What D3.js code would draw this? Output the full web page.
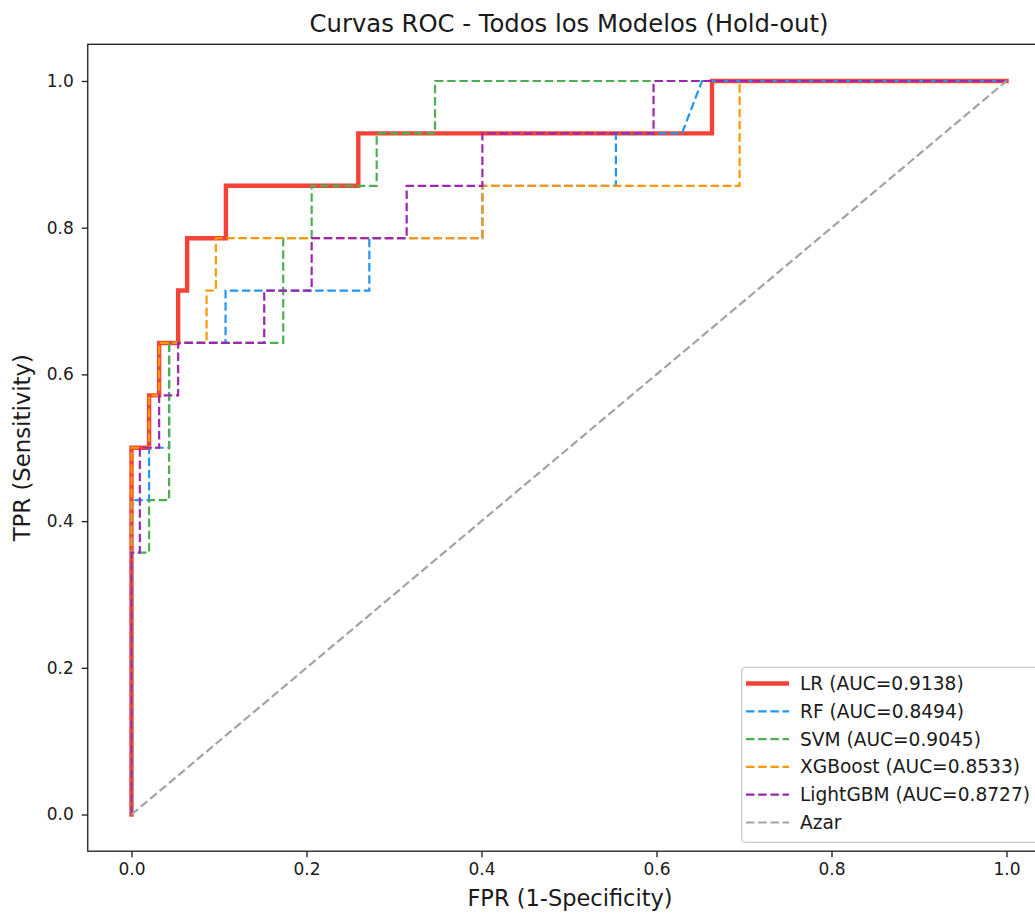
<!DOCTYPE html>
<html>
<head>
<meta charset="utf-8">
<script src="https://cdn.jsdelivr.net/npm/d3@7"></script>
<style>
  body { margin: 0; background: #ffffff; }
  text { font-family: "DejaVu Sans", sans-serif; fill: #1a1a1a; }
</style>
</head>
<body>
<svg id="chart" width="1035" height="913"></svg>
<script>
// ---------------- data ----------------
const title = "Curvas ROC - Todos los Modelos (Hold-out)";
const xLabel = "FPR (1-Specificity)";
const yLabel = "TPR (Sensitivity)";
const tickValues = [0.0, 0.2, 0.4, 0.6, 0.8, 1.0];

const modelNames = ["LR", "RF", "SVM", "XGBoost", "LightGBM"];
const modelAUC = [0.9138, 0.8494, 0.9045, 0.8533, 0.8727];
const modelColors = ["#F44336", "#2196F3", "#4CAF50", "#FF9800", "#9C27B0"];

const lrFPR = [0, 0, 0.0201, 0.0201, 0.0316, 0.0316, 0.0533, 0.0533, 0.0636, 0.0636, 0.1079, 0.1079, 0.2592, 0.2592, 0.6634, 0.6634, 1];
const lrTPR = [0, 0.5, 0.5, 0.5714, 0.5714, 0.6429, 0.6429, 0.7143, 0.7143, 0.7857, 0.7857, 0.8571, 0.8571, 0.9286, 0.9286, 1, 1];

const rfFPR = [0, 0, 0.0201, 0.0201, 0.043, 0.043, 0.1075, 0.1075, 0.2718, 0.2718, 0.401, 0.401, 0.5536, 0.5536, 0.6291, 0.652, 1];
const rfTPR = [0, 0.4286, 0.4286, 0.5, 0.5, 0.6429, 0.6429, 0.7143, 0.7143, 0.7857, 0.7857, 0.8571, 0.8571, 0.9286, 0.9286, 1, 1];

const svmFPR = [0, 0, 0.0201, 0.0201, 0.043, 0.043, 0.1734, 0.1734, 0.2059, 0.2059, 0.2802, 0.2802, 0.3469, 0.3469, 1];
const svmTPR = [0, 0.3571, 0.3571, 0.4286, 0.4286, 0.6429, 0.6429, 0.7857, 0.7857, 0.8571, 0.8571, 0.9286, 0.9286, 1, 1];

const xgbFPR = [0, 0, 0.0201, 0.0201, 0.0316, 0.0316, 0.0858, 0.0858, 0.0964, 0.0964, 0.401, 0.401, 0.695, 0.695, 1];
const xgbTPR = [0, 0.5, 0.5, 0.5714, 0.5714, 0.6429, 0.6429, 0.7143, 0.7143, 0.7857, 0.7857, 0.8571, 0.8571, 1, 1];

const lgbmFPR = [0, 0, 0.0095, 0.0095, 0.0316, 0.0316, 0.0533, 0.0533, 0.1517, 0.1517, 0.2059, 0.2059, 0.3145, 0.3145, 0.401, 0.401, 0.5966, 0.5966, 1];
const lgbmTPR = [0, 0.3571, 0.3571, 0.5, 0.5, 0.5714, 0.5714, 0.6429, 0.6429, 0.7143, 0.7143, 0.7857, 0.7857, 0.8571, 0.8571, 0.9286, 0.9286, 1, 1];

const chanceFPR = [0, 1];
const chanceTPR = [0, 1];
const chanceName = "Azar";
const chanceColor = "#a3a3a3";

// ---------------- layout ----------------
const svg = d3.select("#chart");
const plot = { left: 87.75, right: 1050.25, top: 44.3, bottom: 851.2 };

const x = d3.scaleLinear().domain([-0.05, 1.05]).range([plot.left, plot.right]);
const y = d3.scaleLinear().domain([-0.05, 1.05]).range([plot.bottom, plot.top]);

const curves = [
  { fpr: lrFPR, tpr: lrTPR },
  { fpr: rfFPR, tpr: rfTPR },
  { fpr: svmFPR, tpr: svmTPR },
  { fpr: xgbFPR, tpr: xgbTPR },
  { fpr: lgbmFPR, tpr: lgbmTPR }
].map((c, i) => ({
  name: modelNames[i],
  label: `${modelNames[i]} (AUC=${modelAUC[i].toFixed(4)})`,
  color: modelColors[i],
  solid: i === 0,
  pts: c.fpr.map((f, j) => [f, c.tpr[j]])
}));
curves.push({
  name: chanceName, label: chanceName, color: chanceColor, solid: false,
  pts: chanceFPR.map((f, j) => [f, chanceTPR[j]])
});

const DASH = "8.5,3.7";
const W_SOLID = 4.4, W_DASH = 2.2;

// clip
svg.append("defs").append("clipPath").attr("id", "clip")
  .append("rect")
  .attr("x", plot.left).attr("y", plot.top)
  .attr("width", plot.right - plot.left).attr("height", plot.bottom - plot.top);

// ---------------- curves ----------------
const line = d3.line().x(d => x(d[0])).y(d => y(d[1]));
const gLines = svg.append("g").attr("clip-path", "url(#clip)");
curves.forEach(c => {
  gLines.append("path")
    .datum(c.pts)
    .attr("d", line)
    .attr("fill", "none")
    .attr("stroke", c.color)
    .attr("stroke-width", c.solid ? W_SOLID : W_DASH)
    .attr("stroke-dasharray", c.solid ? null : DASH)
    .attr("stroke-linejoin", "miter")
    .attr("stroke-linecap", c.solid ? "square" : "butt");
});

// ---------------- axes ----------------
const fmt = d3.format(".1f");
const xAxis = svg.append("g")
  .attr("transform", `translate(0,${plot.bottom})`)
  .call(d3.axisBottom(x).tickValues(tickValues).tickFormat(fmt).tickSize(6).tickPadding(6));
const yAxis = svg.append("g")
  .attr("transform", `translate(${plot.left},0)`)
  .call(d3.axisLeft(y).tickValues(tickValues).tickFormat(fmt).tickSize(6).tickPadding(8));
[xAxis, yAxis].forEach(g => {
  g.select(".domain").remove();
  g.selectAll(".tick line").attr("stroke", "#1a1a1a").attr("stroke-width", 1.3);
  g.selectAll(".tick text").attr("font-size", 17).attr("fill", "#1a1a1a")
    .style("font-family", '"DejaVu Sans", sans-serif');
});

// spines
svg.append("rect")
  .attr("x", plot.left).attr("y", plot.top)
  .attr("width", plot.right - plot.left).attr("height", plot.bottom - plot.top)
  .attr("fill", "none").attr("stroke", "#1a1a1a").attr("stroke-width", 1.3);

// ---------------- labels ----------------
const cx = (plot.left + plot.right) / 2;
svg.append("text")
  .attr("x", cx).attr("y", 32)
  .attr("text-anchor", "middle").attr("font-size", 24.3)
  .text(title);
svg.append("text")
  .attr("x", cx + 1).attr("y", 906)
  .attr("text-anchor", "middle").attr("font-size", 22.5)
  .text(xLabel);
svg.append("text")
  .attr("transform", `translate(30,${(plot.top + plot.bottom) / 2}) rotate(-90)`)
  .attr("text-anchor", "middle").attr("font-size", 22.8)
  .text(yLabel);

// ---------------- legend ----------------
const leg = { x: 741.7, y: 667.3, w: 301.6, h: 175 };
svg.append("rect")
  .attr("x", leg.x).attr("y", leg.y).attr("width", leg.w).attr("height", leg.h)
  .attr("rx", 4).attr("ry", 4)
  .attr("fill", "#ffffff").attr("fill-opacity", 0.8)
  .attr("stroke", "#cccccc").attr("stroke-width", 1.3);

const rowY0 = 683.5, rowStep = 27.8;
const gLeg = svg.append("g");
curves.forEach((c, i) => {
  const ry = rowY0 + i * rowStep;
  gLeg.append("line")
    .attr("x1", 746).attr("x2", 789).attr("y1", ry).attr("y2", ry)
    .attr("stroke", c.color)
    .attr("stroke-width", c.solid ? W_SOLID : W_DASH)
    .attr("stroke-dasharray", c.solid ? null : DASH);
  gLeg.append("text")
    .attr("x", 800).attr("y", ry + 6.5)
    .attr("font-size", 18.6)
    .text(c.label);
});
</script>
</body>
</html>
